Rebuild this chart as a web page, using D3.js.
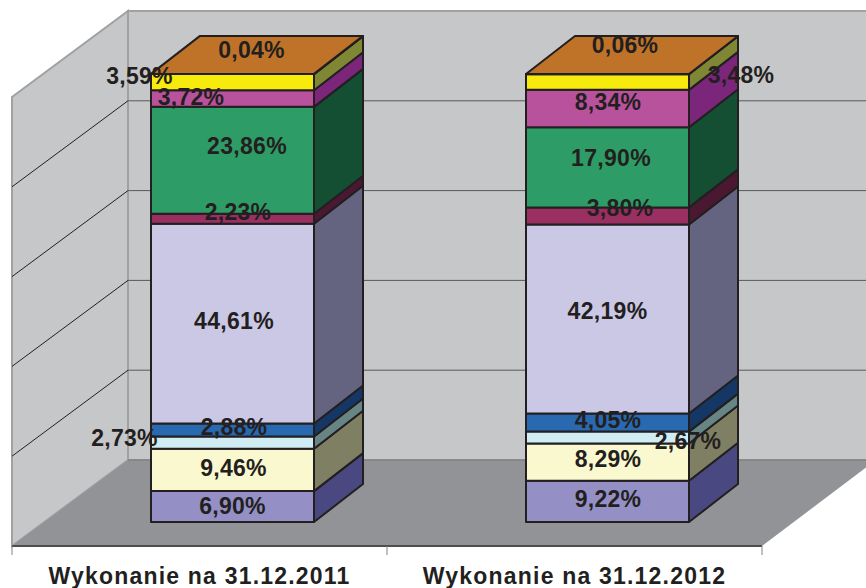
<!DOCTYPE html>
<html lang="pl">
<head>
  <meta charset="UTF-8">
  <title>Wykonanie</title>
  <style>
    html, body { margin: 0; padding: 0; background: #fff; }
    svg { display: block; }
    text { font-family: "Liberation Sans", Arial, sans-serif; font-weight: bold; fill: #231f20; }
  </style>
</head>
<body>
  <script src="https://cdn.jsdelivr.net/npm/d3@7"></script>
  <script>
// dane
const categories = ['Wykonanie na 31.12.2011', 'Wykonanie na 31.12.2012'];
const values2011 = [6.90, 9.46, 2.73, 2.88, 44.61, 2.23, 23.86, 3.72, 3.59, 0.04];
const values2012 = [9.22, 8.29, 2.67, 4.05, 42.19, 3.80, 17.90, 8.34, 3.48, 0.06];
const gridTicks = [0, 20, 40, 60, 80, 100];

// kolory serii
const frontColors = ['#9490c6', '#faf8ce', '#d0edf3', '#2969b0', '#cbc8e6', '#9a2f62', '#2e9c66', '#b9529c', '#f6eb0d', '#bf7328'];
const sideColors = ['#4a4880', '#7f7f63', '#678584', '#143765', '#646480', '#4a1830', '#154f33', '#7b267b', '#7f8734', '#7f8734'];
const topColor = '#bf7328';

// przesuniecia etykiet wzgledem srodka segmentu
const labelNudge = [
  [[0, -1], [1, -1.5], [-108, -5], [1.5, -3], [1.5, -3], [5.5, -7], [14.5, -14], [-41.5, -1.5], [-93, -6], [19, -24]],
  [[0.5, -2.5], [0.5, -3], [80.5, 3.5], [0.5, -2.5], [0, -8], [12.5, -8], [3.5, -9], [0.5, -7], [133.5, -7.5], [17.5, -29]]
];

const width = 866;
const height = 588;

const svg = d3.select('body').append('svg')
  .attr('width', width)
  .attr('height', height);

// skale
const x = d3.scaleBand().domain(categories).range([12, 762]);
const yFront = d3.scaleLinear().domain([0, 100]).range([522, 74]);
const yBack = d3.scaleLinear().domain([0, 100]).range([460, 11]);

// glebokosc scian i slupkow
const wallDx = 116, wallDy = -86;
const barDx = 49, barDy = -38;
const barInset = 139, barWidth = 163;
const xWall = x.range()[0] + wallDx;

const poly = pts => 'M' + pts.map(p => p.join(',')).join('L') + 'Z';

// sciany i podloga
svg.append('path')
  .attr('d', poly([[xWall, yBack(100)], [width + 2, yBack(100)], [width + 2, yBack(0)], [xWall, yBack(0)]]))
  .attr('fill', '#c6c7c9').attr('stroke', '#a0a1a3').attr('stroke-width', 2);

svg.append('path')
  .attr('d', poly([[12, yBack(100) - wallDy], [xWall, yBack(100)], [xWall, yBack(0)], [12, yBack(0) - wallDy]]))
  .attr('fill', '#c6c7c9').attr('stroke', '#a0a1a3').attr('stroke-width', 2);

svg.append('path')
  .attr('d', poly([[12, yBack(0) - wallDy], [xWall, yBack(0)], [width + 2, yBack(0)], [width + 2, yBack(0) + 6], [762, yBack(0) - wallDy]]))
  .attr('fill', '#929396').attr('stroke', 'none');

// linie siatki
const grid = gridTicks.filter(d => d > 0 && d < 100);
svg.selectAll('.grid-back').data(grid).enter().append('line')
  .attr('class', 'grid-back')
  .attr('x1', xWall).attr('x2', width)
  .attr('y1', d => yBack(d)).attr('y2', d => yBack(d))
  .attr('stroke', '#58595b').attr('stroke-width', 1);
svg.selectAll('.grid-left').data(grid).enter().append('line')
  .attr('class', 'grid-left')
  .attr('x1', xWall).attr('x2', 12)
  .attr('y1', d => yBack(d)).attr('y2', d => yBack(d) - wallDy)
  .attr('stroke', '#231f20').attr('stroke-width', 1);

// linia podloza i os x
const baseY = yBack(0) - wallDy;
svg.append('path')
  .attr('d', poly([[xWall, yBack(0)], [762 + wallDx, yBack(0)]]))
  .attr('stroke', '#808184').attr('stroke-width', 1).attr('fill', 'none');
svg.append('line')
  .attr('x1', 12).attr('x2', 762).attr('y1', baseY).attr('y2', baseY)
  .attr('stroke', '#4d4d4f').attr('stroke-width', 2);
svg.selectAll('.tick-mark').data([0, 1, 2]).enter().append('line')
  .attr('class', 'tick-mark')
  .attr('x1', d => x.range()[0] + d * x.step()).attr('x2', d => x.range()[0] + d * x.step())
  .attr('y1', baseY).attr('y2', baseY + 9)
  .attr('stroke', '#808184').attr('stroke-width', 1);

const axis = svg.append('g')
  .attr('transform', `translate(0, ${baseY})`)
  .call(d3.axisBottom(x).tickSize(0).tickPadding(22));
axis.select('.domain').remove();
axis.selectAll('text')
  .attr('font-size', 23)
  .attr('font-family', null)
  .style('letter-spacing', '1.2px');

// slupki
const keys = d3.range(values2011.length);
const rows = [values2011, values2012];
const stack = d3.stack().keys(keys).value((row, k) => row[k]);
const series = stack(rows);

const barLeft = i => x(categories[i]) + barInset;

series.forEach((s, k) => {
  s.forEach((d, i) => {
    const x0 = barLeft(i), x1 = x0 + barWidth;
    const y0 = yFront(d[0]), y1 = yFront(d[1]);
    svg.append('path')
      .attr('d', poly([[x1, y0], [x1 + barDx, y0 + barDy], [x1 + barDx, y1 + barDy], [x1, y1]]))
      .attr('fill', sideColors[k]).attr('stroke', '#231f20').attr('stroke-width', 2).attr('stroke-linejoin', 'round');
    svg.append('path')
      .attr('d', poly([[x0, y0], [x1, y0], [x1, y1], [x0, y1]]))
      .attr('fill', frontColors[k]).attr('stroke', '#231f20').attr('stroke-width', 2).attr('stroke-linejoin', 'round');
  });
});

// gorna sciana slupkow
series[series.length - 1].forEach((d, i) => {
  const x0 = barLeft(i), x1 = x0 + barWidth, yt = yFront(d[1]);
  svg.append('path')
    .attr('d', poly([[x0, yt], [x1, yt], [x1 + barDx, yt + barDy], [x0 + barDx, yt + barDy]]))
    .attr('fill', topColor).attr('stroke', '#231f20').attr('stroke-width', 2).attr('stroke-linejoin', 'round');
});

// etykiety
const fmt = v => v.toFixed(2).replace('.', ',') + '%';
series.forEach((s, k) => {
  s.forEach((d, i) => {
    const nudge = labelNudge[i][k];
    svg.append('text')
      .attr('x', barLeft(i) + barWidth / 2 + nudge[0])
      .attr('y', yFront((d[0] + d[1]) / 2) + nudge[1])
      .attr('dy', '0.35em')
      .attr('text-anchor', 'middle')
      .attr('font-size', 23)
      .style('letter-spacing', '0.3px')
      .text(fmt(rows[i][k]));
  });
});
  </script>
</body>
</html>
